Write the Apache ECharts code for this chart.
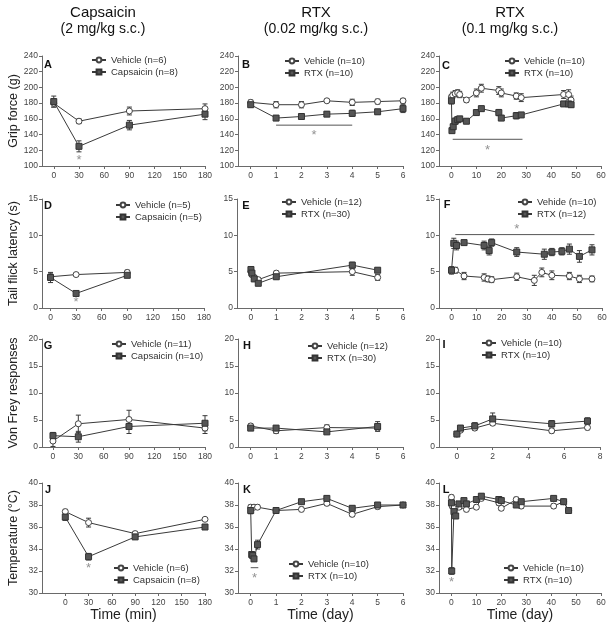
<!DOCTYPE html>
<html><head><meta charset="utf-8">
<script src="https://cdn.jsdelivr.net/npm/echarts@6/dist/echarts.min.js"></script>
<style>html,body{margin:0;padding:0;background:#fff}#c{width:612px;height:631px}</style>
</head><body><div id="c"></div>
<script>
// ---------- DATA ----------
// A: grip force, capsaicin
const A_x = [0, 30, 90, 180];
const A_veh = [180, 157, 170, 173];
const A_vehErr = [5, 3, 5, 6];
const A_drug = [182, 125, 152, 166];
const A_drugErr = [7, 7, 6, 7];
// B: grip force, RTX 0.02
const B_x = [0, 1, 2, 3, 4, 5, 6];
const B_veh = [181, 178, 178, 183, 181, 182, 183];
const B_vehErr = [3, 4, 4, 2, 4, 3, 3];
const B_drug = [178, 161, 163, 166, 167, 169, 173];
const B_drugErr = [3, 3, 3, 3, 4, 3, 5];
// C: grip force, RTX 0.1
const C_vehX = [0, 0.5, 1.5, 2.5, 3.3, 6, 10, 12, 19, 20, 26, 28, 45, 47, 48];
const C_veh = [188, 190, 192, 193, 191, 184, 193, 199, 196, 193, 189, 187, 191, 191, 184];
const C_vehErr = [3, 4, 4, 4, 4, 3, 5, 5, 5, 5, 4, 5, 5, 6, 5];
const C_drugX = [0, 0.2, 0.7, 1.5, 2.5, 3.3, 6, 10, 12, 19, 20, 26, 28, 45, 47, 48];
const C_drug = [183, 145, 150, 157, 159, 160, 157, 168, 173, 168, 161, 164, 165, 179, 179, 178];
const C_drugErr = [4, 3, 3, 4, 3, 3, 3, 3, 3, 4, 3, 4, 3, 3, 3, 3];
// D: tail flick, capsaicin
const D_x = [0, 30, 90];
const D_veh = [4.3, 4.6, 4.9];
const D_vehErr = [0.5, 0.2, 0.3];
const D_drug = [4.2, 2.0, 4.5];
const D_drugErr = [0.7, 0.2, 0.3];
// E: tail flick, RTX 0.02
const E_vehX = [0, 0.04, 0.13, 0.29, 1, 4, 5];
const E_veh = [5.0, 4.6, 4.2, 3.9, 4.8, 5.0, 4.2];
const E_vehErr = [0.3, 0.3, 0.3, 0.3, 0.3, 0.5, 0.4];
const E_drugX = [0, 0.04, 0.13, 0.29, 1, 4, 5];
const E_drug = [5.3, 4.8, 4.0, 3.4, 4.3, 5.9, 5.2];
const E_drugErr = [0.3, 0.3, 0.3, 0.3, 0.3, 0.4, 0.3];
// F: tail flick, RTX 0.1
const F_vehX = [0, 1.6, 5, 13, 14.5, 16, 26, 33, 36, 40, 47, 51, 56];
const F_veh = [5.1, 5.2, 4.4, 4.2, 4.0, 3.9, 4.3, 3.8, 4.9, 4.5, 4.4, 4.0, 4.0];
const F_vehErr = [0.4, 0.4, 0.5, 0.5, 0.4, 0.4, 0.5, 0.7, 0.6, 0.6, 0.5, 0.5, 0.4];
const F_drugX = [0, 0.9, 2, 5, 13, 15, 16, 26, 37, 40, 44, 47, 51, 56];
const F_drug = [5.2, 8.9, 8.6, 9.0, 8.6, 7.9, 9.0, 7.7, 7.4, 7.7, 7.8, 8.1, 7.1, 8.0];
const F_drugErr = [0.5, 0.7, 0.6, 0.3, 0.6, 0.6, 0.5, 0.6, 0.7, 0.5, 0.5, 0.7, 0.8, 0.7];
// G: von Frey, capsaicin
const G_x = [0, 30, 90, 180];
const G_veh = [1.1, 4.3, 5.1, 3.5];
const G_vehErr = [1.0, 1.6, 1.7, 1.0];
const G_drug = [2.1, 1.9, 3.8, 4.4];
const G_drugErr = [0.6, 1.0, 1.3, 1.4];
// H: von Frey, RTX 0.02
const H_x = [0, 1, 3, 5];
const H_veh = [3.9, 3.0, 3.6, 3.5];
const H_vehErr = [0.4, 0.5, 0.5, 0.5];
const H_drug = [3.5, 3.5, 2.8, 3.8];
const H_drugErr = [0.3, 0.4, 0.3, 0.9];
// I: von Frey, RTX 0.1
const I_x = [0, 0.2, 1, 2, 5.3, 7.3];
const I_veh = [2.4, 3.1, 3.5, 4.4, 3.0, 3.6];
const I_vehErr = [0.3, 0.4, 0.4, 0.4, 0.4, 0.4];
const I_drug = [2.4, 3.5, 3.9, 5.2, 4.3, 4.8];
const I_drugErr = [0.4, 0.5, 0.6, 1.1, 0.6, 0.6];
// J: temperature, capsaicin
const J_x = [0, 30, 90, 180];
const J_veh = [37.4, 36.4, 35.4, 36.7];
const J_vehErr = [0.2, 0.4, 0.2, 0.1];
const J_drug = [36.9, 33.3, 35.1, 36.0];
const J_drugErr = [0.3, 0.3, 0.2, 0.2];
// K: temperature, RTX 0.02
const K_vehX = [0, 0.13, 0.27, 1, 2, 3, 4, 5, 6];
const K_veh = [37.8, 37.8, 37.8, 37.5, 37.6, 38.15, 37.15, 37.85, 38.0];
const K_vehErr = [0.2, 0.2, 0.2, 0.2, 0.2, 0.2, 0.2, 0.2, 0.1];
const K_drugX = [0, 0.04, 0.08, 0.13, 0.27, 1, 2, 3, 4, 5, 6];
const K_drug = [37.5, 33.5, 33.4, 33.1, 34.4, 37.5, 38.3, 38.6, 37.7, 38.0, 38.0];
const K_drugErr = [0.3, 0.2, 0.2, 0.2, 0.4, 0.2, 0.2, 0.2, 0.2, 0.1, 0.1];
// L: temperature, RTX 0.1
const L_vehX = [0, 0.3, 1, 3, 6, 10, 12, 19, 20, 26, 28, 41, 45, 47];
const L_veh = [38.7, 37.9, 37.8, 37.8, 37.6, 37.8, 38.6, 38.2, 37.7, 38.5, 37.9, 37.9, 38.3, 37.5];
const L_vehErr = [0.2, 0.2, 0.2, 0.2, 0.2, 0.2, 0.2, 0.2, 0.2, 0.2, 0.2, 0.2, 0.2, 0.2];
const L_drugX = [0, 0.1, 1, 1.7, 3, 5, 6, 10, 12, 19, 20, 26, 28, 41, 45, 47];
const L_drug = [38.2, 32.0, 37.4, 37.0, 38.1, 38.4, 38.1, 38.5, 38.8, 38.5, 38.4, 38.0, 38.3, 38.6, 38.3, 37.5];
const L_drugErr = [0.3, 0.3, 0.2, 0.2, 0.2, 0.2, 0.2, 0.2, 0.2, 0.2, 0.2, 0.2, 0.2, 0.2, 0.2, 0.2];

// tick labels
const ticksMin = [0, 30, 60, 90, 120, 150, 180];
const ticksDay6 = [0, 1, 2, 3, 4, 5, 6];
const ticksDay60 = [0, 10, 20, 30, 40, 50, 60];
const ticksDay8 = [0, 2, 4, 6, 8];

// legend names
const legendNames = {
  A: ['Vehicle (n=6)', 'Capsaicin (n=8)'], B: ['Vehicle (n=10)', 'RTX (n=10)'], C: ['Vehicle (n=10)', 'RTX (n=10)'],
  D: ['Vehicle (n=5)', 'Capsaicin (n=5)'], E: ['Vehicle (n=12)', 'RTX (n=30)'], F: ['Vehide (n=10)', 'RTX (n=12)'],
  G: ['Vehicle (n=11)', 'Capsaicin (n=10)'], H: ['Vehicle (n=12)', 'RTX (n=30)'], I: ['Vehicle (n=10)', 'RTX (n=10)'],
  J: ['Vehicle (n=6)', 'Capsaicin (n=8)'], K: ['Vehicle (n=10)', 'RTX (n=10)'], L: ['Vehicle (n=10)', 'RTX (n=10)']
};
// significance bars [panel, x1, x2, y] and stars [panel, x, y]
const sigBars = [['B', 1, 4, 152], ['C', 0.5, 28.5, 134], ['F', 1.5, 57, 10.1], ['K', 0, 0.3, 32.3]];
const sigStars = [['A', 30, 111], ['B', 2.5, 143], ['C', 14.5, 124], ['D', 30, 1.2], ['F', 26, 11.2], ['J', 30, 32.5], ['K', 0.15, 31.6], ['L', 0, 31.2]];

// ---------- LAYOUT ----------
const FF = 'Liberation Sans, Arial, Helvetica, sans-serif';
const layout = {
  A: {g: [42, 56, 163, 110], x: [-14, 180], t: ticksMin, y: [100, 240, 20], leg: [91, 55], let: [48, 65]},
  B: {g: [238, 56, 165, 110], x: [-0.5, 6], t: ticksDay6, y: [100, 240, 20], leg: [284, 56], let: [246, 65]},
  C: {g: [439, 56, 162, 110], x: [-5, 60], t: ticksDay60, y: [100, 240, 20], leg: [504, 56], let: [446, 66]},
  D: {g: [42, 199, 162, 109], x: [-10, 180], t: ticksMin, y: [0, 15, 5], leg: [115, 200], let: [48, 206]},
  E: {g: [237, 199, 166, 109], x: [-0.55, 6], t: ticksDay6, y: [0, 15, 5], leg: [281, 197], let: [246, 206]},
  F: {g: [439, 199, 163, 109], x: [-5, 60], t: ticksDay60, y: [0, 15, 5], leg: [517, 197], let: [447, 205]},
  G: {g: [42, 339, 163, 108], x: [-13, 180], t: ticksMin, y: [0, 20, 5], leg: [111, 339], let: [48, 346]},
  H: {g: [238, 339, 165, 108], x: [-0.5, 6], t: ticksDay6, y: [0, 20, 5], leg: [307, 341], let: [247, 346]},
  I: {g: [439, 339, 161, 108], x: [-1, 8], t: ticksDay8, y: [0, 20, 5], leg: [481, 338], let: [444, 345]},
  J: {g: [42, 483, 163, 110], x: [-30, 180], t: ticksMin, y: [30, 40, 2], leg: [113, 563], let: [48, 490]},
  K: {g: [238, 483, 165, 110], x: [-0.5, 6], t: ticksDay6, y: [30, 40, 2], leg: [288, 559], let: [247, 490]},
  L: {g: [439, 483, 162, 110], x: [-5, 60], t: ticksDay60, y: [30, 40, 2], leg: [503, 563], let: [446, 490]}
};
const dataOf = {
  A: [A_x, A_veh, A_vehErr, A_x, A_drug, A_drugErr], B: [B_x, B_veh, B_vehErr, B_x, B_drug, B_drugErr],
  C: [C_vehX, C_veh, C_vehErr, C_drugX, C_drug, C_drugErr], D: [D_x, D_veh, D_vehErr, D_x, D_drug, D_drugErr],
  E: [E_vehX, E_veh, E_vehErr, E_drugX, E_drug, E_drugErr], F: [F_vehX, F_veh, F_vehErr, F_drugX, F_drug, F_drugErr],
  G: [G_x, G_veh, G_vehErr, G_x, G_drug, G_drugErr], H: [H_x, H_veh, H_vehErr, H_x, H_drug, H_drugErr],
  I: [I_x, I_veh, I_vehErr, I_x, I_drug, I_drugErr], J: [J_x, J_veh, J_vehErr, J_x, J_drug, J_drugErr],
  K: [K_vehX, K_veh, K_vehErr, K_drugX, K_drug, K_drugErr], L: [L_vehX, L_veh, L_vehErr, L_drugX, L_drug, L_drugErr]
};
const yNames = {A: 'Grip force (g)', D: 'Tail flick latency (s)', G: 'Von Frey responses', J: 'Temperature (°C)'};
const xNames = {J: 'Time (min)', K: 'Time (day)', L: 'Time (day)'};

const AX = '#6a6a6a', LN = '#3a3a3a', TXT = '#333';
const grids = [], xAxes = [], yAxes = [], series = [], legends = [], graphics = [];

function errSeries(i, xs, ys, es) {
  return {
    type: 'custom', xAxisIndex: i, yAxisIndex: i, silent: true, z: 3,
    data: xs.map((x, k) => [x, ys[k] - es[k], ys[k] + es[k]]),
    renderItem: (p, api) => {
      const lo = api.coord([api.value(0), api.value(1)]);
      const hi = api.coord([api.value(0), api.value(2)]);
      const w = 2.5, st = {stroke: LN, lineWidth: 1};
      return {type: 'group', children: [
        {type: 'line', shape: {x1: lo[0], y1: lo[1], x2: hi[0], y2: hi[1]}, style: st},
        {type: 'line', shape: {x1: lo[0] - w, y1: lo[1], x2: lo[0] + w, y2: lo[1]}, style: st},
        {type: 'line', shape: {x1: hi[0] - w, y1: hi[1], x2: hi[0] + w, y2: hi[1]}, style: st}
      ]};
    }
  };
}

Object.keys(layout).forEach((id, i) => {
  const L = layout[id];
  grids.push({left: L.g[0], top: L.g[1], width: L.g[2], height: L.g[3], containLabel: false, outerBoundsMode: 'none'});
  xAxes.push({
    type: 'value', gridIndex: i, min: L.x[0], max: L.x[1],
    name: xNames[id] || '', nameLocation: 'middle', nameGap: 14,
    nameTextStyle: {fontSize: 14, color: '#222', fontFamily: FF},
    axisLine: {show: true, onZero: false, lineStyle: {color: AX, width: 1}},
    axisTick: {show: true, length: 3, lineStyle: {color: AX}, customValues: L.t},
    axisLabel: {fontSize: 8.5, color: '#444', fontFamily: FF, margin: 5, customValues: L.t},
    splitLine: {show: false}
  });
  yAxes.push({
    type: 'value', gridIndex: i, min: L.y[0], max: L.y[1], interval: L.y[2],
    name: yNames[id] || '', nameLocation: 'middle', nameGap: 22,
    nameTextStyle: {fontSize: 12.5, color: '#222', fontFamily: FF},
    axisLine: {show: true, onZero: false, lineStyle: {color: AX, width: 1}},
    axisTick: {show: true, length: 3, lineStyle: {color: AX}},
    axisLabel: {fontSize: 8.5, color: '#444', fontFamily: FF, margin: 4},
    splitLine: {show: false}
  });
  const d = dataOf[id], names = legendNames[id];
  series.push(errSeries(i, d[0], d[1], d[2]));
  series.push(errSeries(i, d[3], d[4], d[5]));
  series.push({
    type: 'line', name: names[0], xAxisIndex: i, yAxisIndex: i, z: 4,
    data: d[0].map((x, k) => [x, d[1][k]]),
    symbol: 'circle', symbolSize: 6, showSymbol: true, animation: false,
    lineStyle: {color: LN, width: 1},
    itemStyle: {color: '#fff', borderColor: '#444', borderWidth: 1}
  });
  series.push({
    type: 'line', name: names[1], xAxisIndex: i, yAxisIndex: i, z: 5,
    data: d[3].map((x, k) => [x, d[4][k]]),
    symbol: 'rect', symbolSize: 6, showSymbol: true, animation: false,
    lineStyle: {color: LN, width: 1},
    itemStyle: {color: '#555', borderColor: '#333', borderWidth: 1}
  });
  legends.push({
    data: names, left: L.leg[0], top: L.leg[1], orient: 'vertical', padding: 0, itemGap: 2,
    itemWidth: 14, itemHeight: 6, selectedMode: false,
    textStyle: {fontSize: 9.5, color: TXT, fontFamily: FF}
  });
  graphics.push({type: 'text', x: L.let[0], y: L.let[1], silent: true,
    style: {text: id, fill: '#111', font: 'bold 11px ' + FF, align: 'center', verticalAlign: 'middle'}});
  sigBars.filter(s => s[0] === id).forEach(s => {
    series.push({type: 'line', xAxisIndex: i, yAxisIndex: i, silent: true, symbol: 'none', animation: false,
      data: [[s[1], s[3]], [s[2], s[3]]], lineStyle: {color: '#555', width: 1}});
  });
  const st = sigStars.filter(s => s[0] === id);
  if (st.length) {
    series.push({type: 'scatter', xAxisIndex: i, yAxisIndex: i, silent: true, symbolSize: 1, z: 6,
      itemStyle: {color: 'rgba(0,0,0,0)'}, animation: false,
      data: st.map(s => [s[1], s[2]]),
      label: {show: true, position: 'inside', offset: [0, 3], formatter: '*', fontSize: 13, color: '#777', fontFamily: FF}});
  }
});

// column titles
[['Capsaicin', '(2 mg/kg s.c.)', 103], ['RTX', '(0.02 mg/kg s.c.)', 316], ['RTX', '(0.1 mg/kg s.c.)', 510]].forEach(t => {
  graphics.push({type: 'text', x: t[2], y: 13, silent: true, style: {text: t[0], fill: '#111', font: '15px ' + FF, align: 'center', verticalAlign: 'middle'}});
  graphics.push({type: 'text', x: t[2], y: 29, silent: true, style: {text: t[1], fill: '#111', font: '14px ' + FF, align: 'center', verticalAlign: 'middle'}});
});

const chart = echarts.init(document.getElementById('c'), null, {renderer: 'canvas'});
chart.setOption({
  animation: false, backgroundColor: '#fff',
  textStyle: {fontFamily: FF},
  grid: grids, xAxis: xAxes, yAxis: yAxes, series: series, legend: legends, graphic: graphics
});
</script></body></html>
